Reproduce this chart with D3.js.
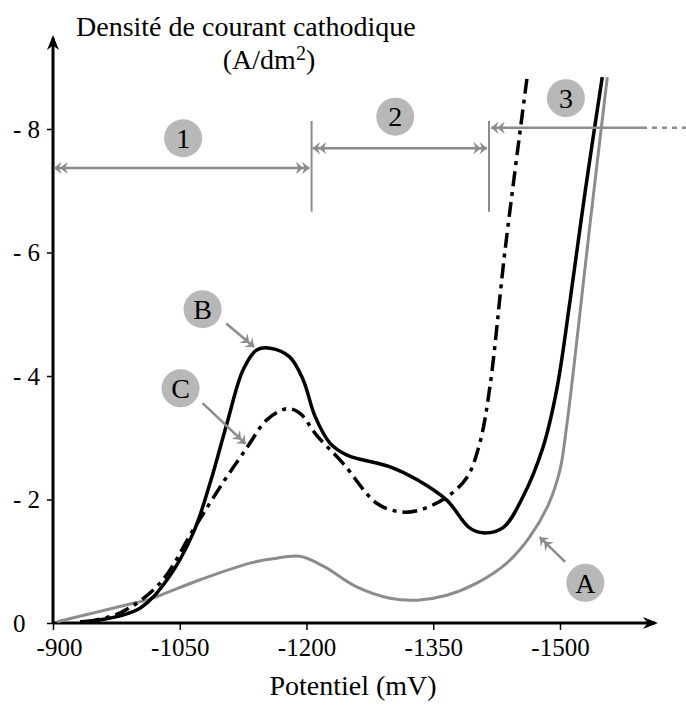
<!DOCTYPE html>
<html>
<head>
<meta charset="utf-8">
<script src="https://cdn.jsdelivr.net/npm/d3@7"></script>
<style>
  body { margin: 0; background: #fff; }
  text { font-family: "Liberation Serif", "Times New Roman", serif; fill: #000; }
</style>
</head>
<body>
<div id="chart"></div>
<script>
// Tick values
const xTicks = [-900, -1050, -1200, -1350, -1500];
const yTicks = [0, 2, 4, 6, 8];

// Curve A (gray): [potential mV, current density A/dm2]
const curveA = [
  [-905, 0.02], [-947, 0.16], [-995, 0.32], [-1011, 0.37], [-1074, 0.70],
  [-1133, 0.97], [-1160, 1.04], [-1192, 1.08], [-1220, 0.92], [-1260, 0.58],
  [-1299, 0.40], [-1331, 0.37], [-1366, 0.45], [-1402, 0.65], [-1437, 0.97],
  [-1464, 1.39], [-1486, 1.91], [-1500, 2.48], [-1508, 3.2], [-1516, 4.1],
  [-1535, 6.4], [-1556, 8.84]
];
// Curve B (solid black)
const curveB = [
  [-932, 0.02], [-956, 0.05], [-1003, 0.24], [-1035, 0.70], [-1066, 1.46],
  [-1086, 2.27], [-1106, 3.24], [-1125, 4.10], [-1141, 4.42], [-1157, 4.45],
  [-1180, 4.31], [-1196, 3.94], [-1210, 3.35], [-1228, 2.91], [-1248, 2.72],
  [-1299, 2.53], [-1331, 2.32], [-1366, 1.99], [-1393, 1.54], [-1409, 1.46],
  [-1433, 1.55], [-1456, 2.04], [-1480, 2.85], [-1496, 3.77], [-1512, 5.23],
  [-1530, 7.01], [-1550, 8.84]
];
// Curve C (dash-dot)
const curveC = [
  [-938, 0.02], [-979, 0.16], [-1027, 0.65], [-1066, 1.51], [-1101, 2.27],
  [-1130, 2.85], [-1153, 3.29], [-1177, 3.47], [-1192, 3.40], [-1212, 3.04],
  [-1243, 2.59], [-1283, 1.94], [-1311, 1.80], [-1334, 1.83], [-1366, 2.04],
  [-1390, 2.36], [-1405, 2.91], [-1417, 3.82], [-1435, 6.04], [-1461, 8.83]
];

// Zone boundaries and arrows (potential, density level)
const zoneBounds = [-1206, -1416];
const zoneArrows = [
  { label: "1", from: -900, to: -1206, y: 7.37, both: true,  lx: -1054, ly: 7.85 },
  { label: "2", from: -1206, to: -1416, y: 7.69, both: true, lx: -1305, ly: 8.20 },
  { label: "3", from: -1416, to: -1645, y: 8.02, both: false, lx: -1507, ly: 8.5 }
];
// Curve labels: [letter, label position, arrow start, arrow end]
const curveLabels = [
  { label: "B", c: [-1077, 5.08], a: [-1105, 4.85], b: [-1138, 4.47] },
  { label: "C", c: [-1051, 3.80], a: [-1077, 3.56], b: [-1128, 2.90] },
  { label: "A", c: [-1530, 0.65], a: [-1506, 0.99], b: [-1476, 1.39] }
];

const width = 686, height = 708;
const svg = d3.select("#chart").append("svg")
  .attr("width", width).attr("height", height);

const x = d3.scaleLinear().domain([-900, -1500]).range([53, 560]);
const y = d3.scaleLinear().domain([0, 8]).range([623, 129]);

const gray = "#8c8c8c";
const defs = svg.append("defs");

// black axis arrowhead
defs.append("marker")
  .attr("id", "axisHead").attr("viewBox", "0 0 10 10")
  .attr("refX", 8).attr("refY", 5)
  .attr("markerWidth", 5).attr("markerHeight", 5)
  .attr("markerUnits", "strokeWidth").attr("orient", "auto")
  .append("path").attr("d", "M0,1 L10,5 L0,9 L3,5 Z").attr("fill", "#000");

// gray chevron arrowheads
function chevron(id, start) {
  defs.append("marker")
    .attr("id", id).attr("viewBox", "0 0 12 10")
    .attr("refX", 11).attr("refY", 5)
    .attr("markerWidth", 6).attr("markerHeight", 5)
    .attr("markerUnits", "strokeWidth")
    .attr("orient", start ? "auto-start-reverse" : "auto")
    .append("path").attr("d", "M0,0 L6,5 L0,10 L2,5 Z M5,0 L11,5 L5,10 L7,5 Z")
    .attr("fill", gray);
}
chevron("grayHead", false);
chevron("grayHeadStart", true);

// Axes
const xAxis = d3.axisBottom(x).tickValues(xTicks).tickSize(7)
  .tickFormat(d => String(d));
const gx = svg.append("g").attr("transform", `translate(0,${y(0)})`).call(xAxis);
gx.select(".domain").remove();
gx.selectAll(".tick line").attr("stroke-width", 1.5);
gx.selectAll(".tick text").attr("font-size", 25).attr("dy", "0.9em")
  .attr("dx", d => d === -900 ? 6 : 0)
  .style("font-family", "'Liberation Serif', serif");

const yAxis = d3.axisLeft(y).tickValues(yTicks).tickSize(6)
  .tickFormat(d => d === 0 ? "0" : "- " + d);
const gy = svg.append("g").attr("transform", `translate(${x(-900)},0)`).call(yAxis);
gy.select(".domain").remove();
gy.selectAll(".tick line").attr("stroke-width", 1.5);
gy.selectAll(".tick text").attr("font-size", 25)
  .attr("text-anchor", "start").attr("x", 13 - x(-900))
  .style("font-family", "'Liberation Serif', serif");

svg.append("line")
  .attr("x1", x(-900)).attr("y1", y(0)).attr("x2", 655).attr("y2", y(0))
  .attr("stroke", "#000").attr("stroke-width", 3).attr("marker-end", "url(#axisHead)");
svg.append("line")
  .attr("x1", x(-900)).attr("y1", y(0)).attr("x2", x(-900)).attr("y2", 38)
  .attr("stroke", "#000").attr("stroke-width", 3).attr("marker-end", "url(#axisHead)");

// Axis titles
svg.append("text").attr("x", 76).attr("y", 36).attr("font-size", 28)
  .text("Densité de courant cathodique");
const unit = svg.append("text").attr("x", 269).attr("y", 69).attr("font-size", 28)
  .attr("text-anchor", "middle");
unit.append("tspan").text("(A/dm");
unit.append("tspan").attr("dy", -9).attr("font-size", 20).text("2");
unit.append("tspan").attr("dy", 9).text(")");
svg.append("text").attr("x", 353).attr("y", 695).attr("font-size", 28)
  .attr("text-anchor", "middle").text("Potentiel (mV)");

// Curves
const line = d3.line().x(d => x(d[0])).y(d => y(d[1]))
  .curve(d3.curveCatmullRom.alpha(0.5));

svg.append("path").datum(curveA).attr("d", line)
  .attr("fill", "none").attr("stroke", gray).attr("stroke-width", 3);
svg.append("path").datum(curveB).attr("d", line)
  .attr("fill", "none").attr("stroke", "#000").attr("stroke-width", 3.5);
svg.append("path").datum(curveC).attr("d", line)
  .attr("fill", "none").attr("stroke", "#000").attr("stroke-width", 3.5)
  .attr("stroke-dasharray", "15,6,4,6");

// Zones
zoneBounds.forEach(v => {
  svg.append("line")
    .attr("x1", x(v)).attr("x2", x(v)).attr("y1", y(8.13)).attr("y2", y(6.66))
    .attr("stroke", gray).attr("stroke-width", 2);
});

function badge(cx, cy, label) {
  svg.append("circle").attr("cx", cx).attr("cy", cy).attr("r", 19)
    .attr("fill", "#b8b8b8");
  svg.append("text").attr("x", cx).attr("y", cy).attr("dy", "0.35em")
    .attr("text-anchor", "middle").attr("font-size", 28).text(label);
}

zoneArrows.forEach(z => {
  const x2 = z.both ? x(z.to) : 642;
  svg.append("line")
    .attr("x1", z.both ? x(z.from) + 1 : x2).attr("x2", z.both ? x(z.to) - 2 : x(z.from) + 2)
    .attr("y1", y(z.y)).attr("y2", y(z.y))
    .attr("stroke", gray).attr("stroke-width", 2.5)
    .attr("marker-start", z.both ? "url(#grayHeadStart)" : null)
    .attr("marker-end", "url(#grayHead)");
  if (!z.both) {
    svg.append("line").attr("x1", 642).attr("x2", 686)
      .attr("y1", y(z.y)).attr("y2", y(z.y))
      .attr("stroke", gray).attr("stroke-width", 2.5).attr("stroke-dasharray", "5,5");
  }
  badge(x(z.lx), y(z.ly), z.label);
});

curveLabels.forEach(c => {
  svg.append("line")
    .attr("x1", x(c.a[0])).attr("y1", y(c.a[1]))
    .attr("x2", x(c.b[0])).attr("y2", y(c.b[1]))
    .attr("stroke", gray).attr("stroke-width", 2.5)
    .attr("marker-end", "url(#grayHead)");
  badge(x(c.c[0]), y(c.c[1]), c.label);
});
</script>
</body>
</html>
